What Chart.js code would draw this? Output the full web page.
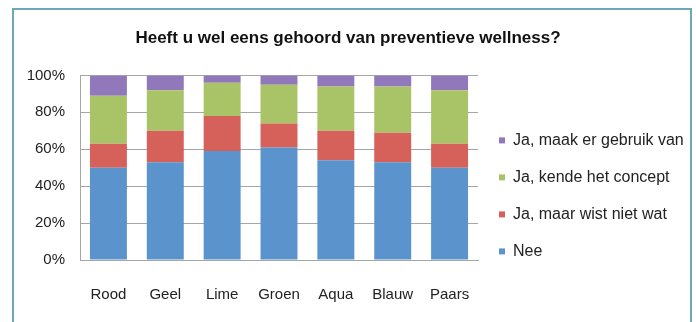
<!DOCTYPE html>
<html>
<head>
<meta charset="utf-8">
<script src="https://cdn.jsdelivr.net/npm/chart.js@4"></script>
<style>
  body { margin: 0; background: #fff; }
  #wrap { position: relative; width: 696px; height: 322px; overflow: hidden; }
  #frame { position: absolute; left: 12px; top: 8px; width: 676px; height: 400px; border: 2px solid #6ba9b3; }
  canvas { position: absolute; left: 0; top: 0; }
</style>
</head>
<body>
<div id="wrap">
  <div id="frame"></div>
  <canvas id="chart" width="696" height="322"></canvas>
</div>
<script>
// categorieën en percentages per antwoord
const categories = ['Rood', 'Geel', 'Lime', 'Groen', 'Aqua', 'Blauw', 'Paars'];
const nee = [50, 53, 59, 61, 54, 53, 50];
const wistNiet = [13, 17, 19, 13, 16, 16, 13];
const concept = [26, 22, 18, 21, 24, 25, 29];
const gebruik = [11, 8, 4, 5, 6, 6, 8];
const yTicks = [0, 20, 40, 60, 80, 100];

const font = 'Liberation Sans, Arial, sans-serif';

// legenda vaste breedte geven
const legendWidth = {
    id: 'legendWidth',
    beforeLayout(chart) {
        const lg = chart.legend;
        if (lg && !lg._fixed) {
            const fit = lg.fit.bind(lg);
            lg.fit = function () { fit(); this.width = 218; };
            lg._fixed = true;
        }
    }
};

const canvas = document.getElementById('chart');
const ctx = canvas.getContext('2d');

new Chart(ctx, {
    type: 'bar',
    data: {
        labels: categories,
        datasets: [
            {label: 'Nee', data: nee, backgroundColor: '#5b94cc'},
            {label: 'Ja, maar wist niet wat', data: wistNiet, backgroundColor: '#d6605a'},
            {label: 'Ja, kende het concept', data: concept, backgroundColor: '#a9c466'},
            {label: 'Ja, maak er gebruik van', data: gebruik, backgroundColor: '#9178ba'}
        ]
    },
    options: {
        responsive: false,
        animation: false,
        layout: {padding: {top: 28, bottom: 0, left: 0, right: 0}},
        datasets: {bar: {categoryPercentage: 1, barPercentage: 0.65}},
        scales: {
            x: {
                stacked: true,
                grid: {display: false},
                border: {color: '#a6a6a6'},
                ticks: {padding: 18, color: '#222', font: {family: font, size: 15}}
            },
            y: {
                stacked: true,
                min: 0,
                max: 100,
                afterFit(scale) { scale.width = 80; },
                afterBuildTicks(scale) { scale.ticks = yTicks.map(v => ({value: v})); },
                grid: {color: '#a6a6a6', drawTicks: false},
                border: {color: '#a6a6a6'},
                ticks: {
                    padding: 15,
                    color: '#222',
                    font: {family: font, size: 15},
                    callback: v => v + '%'
                }
            }
        },
        plugins: {
            tooltip: {enabled: false},
            title: {
                display: true,
                text: 'Heeft u wel eens gehoord van preventieve wellness?',
                color: '#111',
                font: {family: font, size: 17, weight: 'bold'},
                padding: {top: 0, bottom: 27}
            },
            legend: {
                position: 'right',
                align: 'start',
                reverse: true,
                title: {display: true, text: '', padding: {top: 69, bottom: 0}},
                labels: {
                    boxWidth: 6,
                    boxHeight: 6,
                    padding: 21,
                    color: '#222',
                    font: {family: font, size: 16}
                }
            }
        }
    },
    plugins: [legendWidth]
});
</script>
</body>
</html>
